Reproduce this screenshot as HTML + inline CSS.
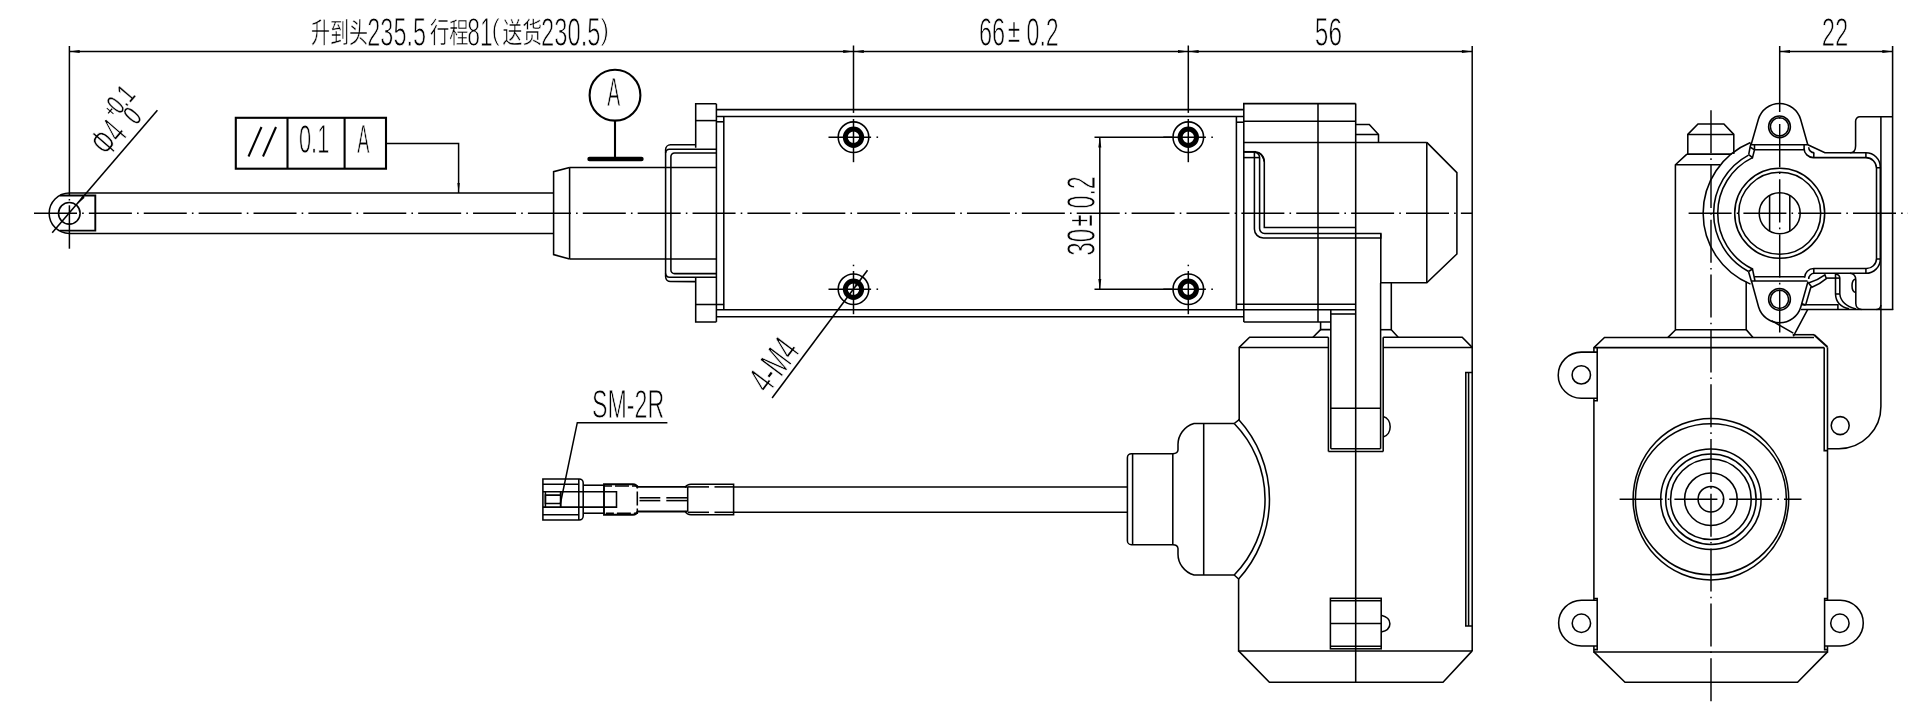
<!DOCTYPE html>
<html lang="zh">
<head>
<meta charset="utf-8">
<title>Linear actuator outline drawing</title>
<style>
html,body{margin:0;padding:0;background:#fff;overflow:hidden}
svg{display:block;will-change:transform}
.l{fill:none;stroke:#000;stroke-width:1.55}
.d{fill:none;stroke:#000;stroke-width:1.5}
.c{fill:none;stroke:#000;stroke-width:1.45}
.m{fill:none;stroke:#000;stroke-width:1.9}
.k{fill:none;stroke:#000;stroke-width:2.1}
.ring{fill:none;stroke:#000;stroke-width:5}
.a{fill:#000;stroke:none}
text{fill:#000;stroke:#fff;stroke-width:0.9px}
.lat{font-family:"Liberation Sans",sans-serif}
.sm{stroke-width:0.3px}
.ns{stroke:none}
.cjk{font-family:"Liberation Sans","Noto Sans CJK SC","WenQuanYi Zen Hei",sans-serif;font-weight:400;stroke-width:0.5px}
</style>
</head>
<body>
<svg width="1919" height="726" viewBox="0 0 1919 726">
<rect x="0" y="0" width="1919" height="726" fill="#fff"/>
<g id="labels">
<text transform="translate(0.0,0.0)"><tspan class="cjk" x="311.0" y="43.2" font-size="28" textLength="57" lengthAdjust="spacingAndGlyphs">升到头</tspan><tspan class="lat" x="367.3" y="45.7" font-size="40.2" textLength="58.7" lengthAdjust="spacingAndGlyphs">235.5</tspan><tspan class="cjk" x="430.0" y="43.2" font-size="28" textLength="38.5" lengthAdjust="spacingAndGlyphs">行程</tspan><tspan class="lat" x="467.3" y="45.7" font-size="40.2" textLength="25.5" lengthAdjust="spacingAndGlyphs">81</tspan><tspan class="lat" x="491.5" y="40.1" font-size="29" textLength="8.5" lengthAdjust="spacingAndGlyphs">(</tspan><tspan class="cjk" x="502.5" y="43.2" font-size="28" textLength="39.5" lengthAdjust="spacingAndGlyphs">送货</tspan><tspan class="lat" x="541.0" y="45.7" font-size="40.2" textLength="59.5" lengthAdjust="spacingAndGlyphs">230.5</tspan><tspan class="lat" x="600.5" y="40.1" font-size="29" textLength="8.5" lengthAdjust="spacingAndGlyphs">)</tspan></text>
<text transform="translate(0.0,0.0)"><tspan class="lat" x="979.0" y="45.7" font-size="40.2" textLength="26.2" lengthAdjust="spacingAndGlyphs">66</tspan><tspan class="lat sm" x="1008.0" y="42.2" font-size="33" textLength="12" lengthAdjust="spacingAndGlyphs">±</tspan><tspan class="lat" x="1026.5" y="45.7" font-size="40.2" textLength="32.3" lengthAdjust="spacingAndGlyphs">0.2</tspan></text>
<text transform="translate(1314.8,46.2)"><tspan class="lat" x="0.0" y="0.0" font-size="40.2" textLength="27.2" lengthAdjust="spacingAndGlyphs">56</tspan></text>
<text transform="translate(1821.8,45.9)"><tspan class="lat" x="0.0" y="0.0" font-size="40.2" textLength="26.6" lengthAdjust="spacingAndGlyphs">22</tspan></text>
<text transform="translate(299.0,153.4)"><tspan class="lat" x="0.0" y="0.0" font-size="40.2" textLength="30.3" lengthAdjust="spacingAndGlyphs">0.1</tspan></text>
<text transform="translate(357.3,153.4)"><tspan class="lat" x="0.0" y="0.0" font-size="40.2" textLength="12.2" lengthAdjust="spacingAndGlyphs">A</tspan></text>
<text transform="translate(607.3,105.8)"><tspan class="lat" x="0.0" y="0.0" font-size="40.2" textLength="13" lengthAdjust="spacingAndGlyphs">A</tspan></text>
<text transform="translate(592.0,418.0)"><tspan class="lat" x="0.0" y="0.0" font-size="40.2" textLength="72.2" lengthAdjust="spacingAndGlyphs">SM-2R</tspan></text>
<text transform="translate(768.2,395.1) rotate(-53.2)"><tspan class="lat" x="0.0" y="0.0" font-size="40.2" textLength="55" lengthAdjust="spacingAndGlyphs">4-M4</tspan></text>
<text transform="translate(1095.2,255.8) rotate(-90)"><tspan class="lat" x="0.0" y="0.0" font-size="40.2" textLength="27" lengthAdjust="spacingAndGlyphs">30</tspan><tspan class="lat sm" x="29.3" y="-3.5" font-size="33" textLength="12" lengthAdjust="spacingAndGlyphs">±</tspan><tspan class="lat" x="47.3" y="0.0" font-size="40.2" textLength="32.3" lengthAdjust="spacingAndGlyphs">0.2</tspan></text>
<text transform="translate(108.3,158.3) rotate(-49.3)"><tspan class="lat" x="0.0" y="0.0" font-size="40.2" textLength="31" lengthAdjust="spacingAndGlyphs">Φ4</tspan><tspan class="lat ns" x="33.3" y="-23.5" font-size="18" textLength="7.4" lengthAdjust="spacingAndGlyphs">+</tspan><tspan class="lat sm" x="39.9" y="-19.5" font-size="28" textLength="26.1" lengthAdjust="spacingAndGlyphs">0.1</tspan><tspan class="lat sm" x="42.5" y="0.0" font-size="28" textLength="11" lengthAdjust="spacingAndGlyphs">0</tspan></text>
</g>
<g id="main-view">
<line class="d" x1="69.4" y1="51.5" x2="1472.2" y2="51.5"/>
<polygon class="a" points="69.4,51.5 79.70,53.00 79.70,50.00"/>
<polygon class="a" points="853.5,51.5 843.20,50.00 843.20,53.00"/>
<polygon class="a" points="853.5,51.5 863.80,53.00 863.80,50.00"/>
<polygon class="a" points="1188.3,51.5 1178.00,50.00 1178.00,53.00"/>
<polygon class="a" points="1188.3,51.5 1198.60,53.00 1198.60,50.00"/>
<polygon class="a" points="1472.2,51.5 1461.90,50.00 1461.90,53.00"/>
<line class="d" x1="69.4" y1="46" x2="69.4" y2="195"/>
<line class="d" x1="69.4" y1="199" x2="69.4" y2="200.5"/>
<line class="d" x1="69.4" y1="205.3" x2="69.4" y2="248.7"/>
<line class="d" x1="853.5" y1="45.5" x2="853.5" y2="112.9"/>
<line class="d" x1="1188.3" y1="45.5" x2="1188.3" y2="112.9"/>
<line class="d" x1="1472.2" y1="46" x2="1472.2" y2="348"/>
<line class="c" x1="34" y1="213.3" x2="1472" y2="213.3" stroke-dasharray="43 5.14 1.6 5.14"/>
<path class="l" d="M553.6,193 H69.4 A20.25,20.25 0 0 0 69.4,233.5 H553.6"/>
<circle class="l" cx="69.3" cy="213.3" r="10.8"/>
<path class="m" d="M60,195.5 H95.3 V230.6 H60"/>
<line class="l" x1="52.2" y1="232.7" x2="157.4" y2="110.3"/>
<polygon class="a" points="76.4,205.1 84.63,197.67 82.51,195.85"/>
<rect class="k" x="235.8" y="117.8" width="150.2" height="50.9"/>
<line class="k" x1="287.5" y1="117.8" x2="287.5" y2="168.7"/>
<line class="k" x1="344.6" y1="117.8" x2="344.6" y2="168.7"/>
<line class="k" x1="248.5" y1="156.5" x2="261.5" y2="127"/>
<line class="k" x1="263" y1="156.5" x2="276" y2="127"/>
<polyline class="d" points="386,143.4 458.6,143.4 458.6,193"/>
<polygon class="a" points="458.6,193 459.80,183.00 457.40,183.00"/>
<circle class="k" cx="615" cy="95.2" r="25.4"/>
<line class="k" x1="615" y1="120.6" x2="615" y2="158"/>
<line x1="589.5" y1="159" x2="641.5" y2="159" stroke="#000" stroke-width="4.4" stroke-linecap="round"/>
<path class="l" d="M569.6,167.4 L553.6,171.7 V254.6 L569.6,258.9"/>
<line class="l" x1="569.6" y1="167.4" x2="569.6" y2="258.9"/>
<line class="l" x1="569.6" y1="167.4" x2="716.4" y2="167.4"/>
<line class="l" x1="569.6" y1="258.9" x2="716.4" y2="258.9"/>
<path class="l" d="M695.7,144.8 H670.5 A5,5 0 0 0 665.6,149.8 V276.6 A5,5 0 0 0 670.5,281.6 H695.7"/>
<path class="l" d="M716.4,149.2 H669.4 A3.8,3.8 0 0 0 665.6,153"/>
<path class="l" d="M716.4,277.2 H669.4 A3.8,3.8 0 0 1 665.6,273.4"/>
<path class="l" d="M716.4,152.9 H674.5 A3.6,3.6 0 0 0 670.9,156.5 V270 A3.6,3.6 0 0 0 674.5,273.6 H716.4"/>
<path class="l" d="M695.7,147.8 V103.8 H716.4"/>
<line class="l" x1="695.7" y1="120.6" x2="716.4" y2="120.6"/>
<path class="l" d="M695.7,277.2 V321.9 H716.4"/>
<line class="l" x1="695.7" y1="304.5" x2="724.1" y2="304.5"/>
<line class="l" x1="716.4" y1="103.8" x2="716.4" y2="321.9"/>
<line class="l" x1="716.4" y1="121.8" x2="723.8" y2="121.8"/>
<line class="l" x1="723.8" y1="116.5" x2="723.8" y2="309.7"/>
<line class="l" x1="716.4" y1="109.6" x2="1243.8" y2="109.6"/>
<line class="l" x1="716.4" y1="116.5" x2="1243.8" y2="116.5"/>
<line class="l" x1="716.4" y1="309.7" x2="1355.8" y2="309.7"/>
<line class="l" x1="716.4" y1="316.7" x2="1243.8" y2="316.7"/>
<line class="l" x1="1236.4" y1="116.5" x2="1236.4" y2="309.7"/>
<line class="l" x1="1236.4" y1="122.2" x2="1243.8" y2="122.2"/>
<line class="l" x1="1236.4" y1="304.3" x2="1355.8" y2="304.3"/>
</g>
<g id="holes">
<circle class="l" cx="853.5" cy="137.2" r="15.3"/>
<circle class="ring" cx="853.5" cy="137.2" r="8.2"/>
<line class="d" x1="828.5" y1="137.2" x2="871.1" y2="137.2"/>
<line class="d" x1="876.5" y1="137.2" x2="878.1" y2="137.2"/>
<line class="d" x1="853.5" y1="118.99999999999999" x2="853.5" y2="162.2"/>
<circle class="l" cx="1188.3" cy="137.2" r="15.3"/>
<circle class="ring" cx="1188.3" cy="137.2" r="8.2"/>
<line class="d" x1="1163.3" y1="137.2" x2="1205.8999999999999" y2="137.2"/>
<line class="d" x1="1211.3" y1="137.2" x2="1212.8999999999999" y2="137.2"/>
<line class="d" x1="1188.3" y1="118.99999999999999" x2="1188.3" y2="162.2"/>
<circle class="l" cx="853.5" cy="289.2" r="15.3"/>
<circle class="ring" cx="853.5" cy="289.2" r="8.2"/>
<line class="d" x1="828.5" y1="289.2" x2="871.1" y2="289.2"/>
<line class="d" x1="876.5" y1="289.2" x2="878.1" y2="289.2"/>
<line class="d" x1="853.5" y1="271.0" x2="853.5" y2="314.2"/>
<line class="d" x1="853.5" y1="264.7" x2="853.5" y2="266.2"/>
<circle class="l" cx="1188.3" cy="289.2" r="15.3"/>
<circle class="ring" cx="1188.3" cy="289.2" r="8.2"/>
<line class="d" x1="1163.3" y1="289.2" x2="1205.8999999999999" y2="289.2"/>
<line class="d" x1="1211.3" y1="289.2" x2="1212.8999999999999" y2="289.2"/>
<line class="d" x1="1188.3" y1="271.0" x2="1188.3" y2="314.2"/>
<line class="d" x1="1188.3" y1="264.7" x2="1188.3" y2="266.2"/>
</g>
<g id="dim30">
<line class="d" x1="1094.5" y1="137.2" x2="1172" y2="137.2"/>
<line class="d" x1="1094.5" y1="289.2" x2="1172" y2="289.2"/>
<line class="d" x1="1099.8" y1="137.2" x2="1099.8" y2="289.2"/>
<polygon class="a" points="1099.8,137.2 1098.30,147.50 1101.30,147.50"/>
<polygon class="a" points="1099.8,289.2 1101.30,278.90 1098.30,278.90"/>
</g>
<line class="l" x1="772.1" y1="398" x2="867.5" y2="270.3"/>
<polygon class="a" points="862.5,277 854.88,285.03 856.96,286.59"/>
<g id="motor">
<path class="l" d="M1243.8,322 V103.6 H1355.7"/>
<line class="l" x1="1355.7" y1="103.6" x2="1355.7" y2="682.2"/>
<line class="l" x1="1318" y1="103.6" x2="1318" y2="322"/>
<line class="l" x1="1243.8" y1="121.2" x2="1355.7" y2="121.2"/>
<line class="l" x1="1243.8" y1="142.4" x2="1426.8" y2="142.4"/>
<line class="l" x1="1243.8" y1="322" x2="1330.6" y2="322"/>
<path class="l" d="M1355.7,124.5 H1369.3 L1378.5,134.5 V142.4"/>
<line class="l" x1="1355.7" y1="134.5" x2="1378.5" y2="134.5"/>
<path class="l" d="M1426.8,142.4 L1456.9,172.6 V254 L1426.8,282.8 H1380.8"/>
<line class="l" x1="1426.8" y1="142.4" x2="1426.8" y2="282.8"/>
<path class="l" d="M1243.8,151.7 H1254.3 A10,10 0 0 1 1264.3,161.7 V227.4 H1355.7"/>
<line class="m" x1="1243.8" y1="151.9" x2="1256" y2="151.9"/>
<path class="l" d="M1243.8,157.6 H1259.4"/>
<path class="l" d="M1254.4,151.7 V229 A9,9 0 0 0 1263.4,238 H1380.8 V233.4"/>
<path class="l" d="M1254.6,152.3 Q1259.4,153 1259.6,157.6 V228.4 A5,5 0 0 0 1264.6,233.4 H1380.8 V283"/>
<path class="l" d="M1258.6,152.6 Q1263,155 1264.3,161.7"/>
<path class="l" d="M1391.3,282.8 V329.7 L1398.2,337.2"/>
<line class="l" x1="1380.6" y1="329.7" x2="1391.3" y2="329.7"/>
<path class="l" d="M1330.6,329.6 H1320.6 V322"/>
<line class="l" x1="1320.6" y1="329.6" x2="1313" y2="337.2"/>
<line class="l" x1="1330.8" y1="309.7" x2="1330.8" y2="448.8"/>
<line class="l" x1="1328.4" y1="337.2" x2="1328.4" y2="451.5"/>
<line class="l" x1="1330.8" y1="314" x2="1355.7" y2="314"/>
<line class="l" x1="1380.6" y1="283" x2="1380.6" y2="448.8"/>
<line class="l" x1="1383.2" y1="337.2" x2="1383.2" y2="451.5"/>
<line class="l" x1="1330.8" y1="408.3" x2="1380.6" y2="408.3"/>
<line class="l" x1="1330.8" y1="448.8" x2="1380.6" y2="448.8"/>
<line class="l" x1="1328.4" y1="451.5" x2="1383.2" y2="451.5"/>
<path class="l" d="M1383.2,416.5 C1392.5,419 1392.5,434.5 1383.2,437"/>
<path class="l" d="M1328.4,337.2 H1249.6 L1239.2,347.4 V419.6 L1234.2,423.5"/>
<line class="l" x1="1239.2" y1="347.4" x2="1328.4" y2="347.4"/>
<path class="l" d="M1383.2,337.2 H1462.2 L1472.2,347.4 V650.9"/>
<line class="l" x1="1383.2" y1="347.4" x2="1472.2" y2="347.4"/>
<path class="l" d="M1234.2,575 L1238.6,579 V650.9 H1472.2"/>
<path class="l" d="M1238.6,650.9 L1269.4,682.2 H1443 L1472.2,650.9"/>
<path class="l" d="M1472.2,372.5 H1465.8 V626 H1472.2"/>
<line class="l" x1="1468.6" y1="373" x2="1468.6" y2="626"/>
<rect class="l" x="1330.4" y="598.3" width="50.8" height="50.5"/>
<line class="l" x1="1330.4" y1="600.8" x2="1381.2" y2="600.8"/>
<line class="l" x1="1330.4" y1="623.4" x2="1381.2" y2="623.4"/>
<line class="l" x1="1330.4" y1="646.3" x2="1381.2" y2="646.3"/>
<path class="l" d="M1381.2,615.3 C1392.8,618 1392.8,629.5 1381.2,632"/>
<path class="l" d="M1234.2,423.5 H1194 A22,22 0 0 0 1178,445.5 V450 Q1177.6,453.7 1172.8,453.7 H1131.4 A4,4 0 0 0 1127.4,457.7 V540.7 A4,4 0 0 0 1131.4,544.7 H1172.8 Q1177.6,544.7 1178,548.5 V553 A22,22 0 0 0 1194,575 H1234.2"/>
<line class="l" x1="1132.6" y1="453.7" x2="1132.6" y2="544.7"/>
<line class="l" x1="1172.8" y1="453.7" x2="1172.8" y2="544.7"/>
<line class="l" x1="1203.7" y1="423.5" x2="1203.7" y2="575"/>
<path class="l" d="M1238.4,419.3 A118.4,118.4 0 0 1 1238.4,579.2"/>
<path class="l" d="M1234.2,423.5 A108.4,108.4 0 0 1 1234.2,575"/>
<line class="l" x1="733.6" y1="486.9" x2="1127.4" y2="486.9"/>
<line class="l" x1="733.6" y1="512.3" x2="1127.4" y2="512.3"/>
</g>
<g id="connector">
<path class="l" d="M542.9,479 H579.2 A4,4 0 0 1 583.2,483 V516 A4,4 0 0 1 579.2,520 H542.9 Z"/>
<line class="l" x1="578.8" y1="479" x2="578.8" y2="520"/>
<line class="l" x1="542.9" y1="484.2" x2="578.8" y2="484.2"/>
<line class="l" x1="542.9" y1="514.8" x2="578.8" y2="514.8"/>
<path class="l" d="M542.9,491.8 H616.5 V507.1 H542.9"/>
<path class="l" d="M560.7,495.1 H545.4 V503.5 H560.7"/>
<line class="l" x1="545.4" y1="491.8" x2="545.4" y2="507.1"/>
<line class="m" x1="560.7" y1="491.8" x2="560.7" y2="507.1"/>
<line class="l" x1="583.2" y1="485.2" x2="604" y2="485.2"/>
<line class="l" x1="583.2" y1="513.2" x2="604" y2="513.2"/>
<polyline class="d" points="667.4,422.7 577.3,422.7 560.4,503.5"/>
<path class="m" d="M637.3,487.5 Q636.5,484.2 633,484.2 H604 V514.8 H633 Q636.5,514.8 637.3,511.5"/>
<path class="l" d="M604,485.9 H637.3 V513.2 H604" stroke-dasharray="8 3 14 3"/>
<line class="m" x1="637.3" y1="486.9" x2="687.7" y2="486.9"/>
<line class="m" x1="637.3" y1="511.5" x2="687.7" y2="511.5"/>
<line class="l" x1="639.5" y1="497.8" x2="660.3" y2="497.8"/>
<line class="l" x1="666.3" y1="497.8" x2="687.1" y2="497.8"/>
<line class="l" x1="639.5" y1="500.6" x2="660.3" y2="500.6"/>
<line class="l" x1="666.3" y1="500.6" x2="687.1" y2="500.6"/>
<line class="l" x1="687.7" y1="486.9" x2="687.7" y2="511.5"/>
<path class="l" d="M685,487.5 Q687,484.2 691,484.2 H733.6 V514.8 H691 Q687,514.8 685,511.2"/>
<line class="l" x1="688" y1="486.9" x2="709" y2="486.9"/>
<line class="l" x1="714.5" y1="486.9" x2="733.6" y2="486.9"/>
<line class="l" x1="688" y1="512.3" x2="709" y2="512.3"/>
<line class="l" x1="714.5" y1="512.3" x2="733.6" y2="512.3"/>
</g>
<g id="side-view">
<line class="d" x1="1779.7" y1="51.5" x2="1892.6" y2="51.5"/>
<polygon class="a" points="1779.7,51.5 1790.00,53.00 1790.00,50.00"/>
<polygon class="a" points="1892.6,51.5 1882.30,50.00 1882.30,53.00"/>
<line class="d" x1="1779.7" y1="46" x2="1779.7" y2="112"/>
<line class="c" x1="1779.7" y1="112" x2="1779.7" y2="332.5" stroke-dasharray="0 5.2 1.6 5.2 43.2 0"/>
<line class="l" x1="1892.6" y1="46" x2="1892.6" y2="310"/>
<line class="c" x1="1688.6" y1="213.3" x2="1908" y2="213.3" stroke-dasharray="43 5.1 1.6 5.1"/>
<line class="c" x1="1711" y1="110.2" x2="1711" y2="702" stroke-dasharray="43 5.1 1.6 5.1"/>
<circle class="l" cx="1779.7" cy="213.3" r="45"/>
<circle class="l" cx="1779.7" cy="213.3" r="41"/>
<circle class="l" cx="1779.7" cy="213.3" r="20.5"/>
<line class="l" x1="1769.6" y1="195.4" x2="1769.6" y2="231.2"/>
<line class="l" x1="1789.8" y1="195.4" x2="1789.8" y2="231.2"/>
<path class="l" d="M1750.5,142.5 A76.6,76.6 0 0 0 1750.5,284.1"/>
<path class="l" d="M1748.5,155.1 A66,66 0 0 0 1748.5,271.5"/>
<path class="l" d="M1752.5,157.6 A62,62 0 0 0 1752.5,269.0"/>
<path class="l" d="M1748.7,154.6 L1750.1,147 L1751.1,143.2 M1748.7,154.6 L1752.5,157.6 L1754.5,149.8 M1750.1,147 L1754.5,149.8"/>
<path class="l" d="M1748.5,271.5 L1751.6,282 M1748.5,271.5 L1752.5,269 L1755,281"/>
<path class="l" d="M1751.1,144.7 L1758.4,119.3 A22,22 0 0 1 1800.6,119.3 L1807.8,144.7"/>
<circle class="l" cx="1779.5" cy="126.8" r="10.9"/>
<circle class="l" cx="1779.5" cy="126.8" r="9.1"/>
<line class="l" x1="1751.1" y1="144.7" x2="1807.8" y2="144.7"/>
<line class="l" x1="1754.5" y1="149.8" x2="1804.1" y2="149.8"/>
<path class="l" d="M1754.5,144.7 V149.8 M1804.1,144.7 V149.8"/>
<path class="l" d="M1751.6,281.5 L1758.6,307 A22,22 0 0 0 1800.8,307 L1808,281.5"/>
<circle class="l" cx="1779.5" cy="299.3" r="10.9"/>
<circle class="l" cx="1779.5" cy="299.3" r="9.1"/>
<line class="l" x1="1751.6" y1="281" x2="1807.5" y2="281"/>
<line class="l" x1="1754.3" y1="276.7" x2="1804.6" y2="276.7"/>
<path class="l" d="M1807.8,144.7 L1824.9,152.7 H1865.9 A14.4,14.4 0 0 1 1880.3,167.2 V258.9 A14.4,14.4 0 0 1 1865.9,273.3 H1814.3 A5.6,5.6 0 0 0 1808.7,278.9"/>
<path class="l" d="M1808.7,147.2 A5.6,5.6 0 0 0 1814.3,152.8"/>
<path class="l" d="M1804.1,148.4 A9.2,9.2 0 0 0 1813.3,157.6 H1865.9 A10.6,10.6 0 0 1 1876.5,168.2 V258.5 A10,10 0 0 1 1865.9,268.5 H1813.8 A9.2,9.2 0 0 0 1804.6,277.7"/>
<path class="l" d="M1813.8,152.7 V157.6 M1865.9,152.7 V157.6 M1876.5,167.8 H1880.3 M1813.8,268.5 V273.3 M1865.9,268.5 V273.3 M1876.5,258.9 H1880.3"/>
<path class="l" d="M1850,152.8 Q1855.6,152.8 1855.6,146 V121 A4.3,4.3 0 0 1 1859.9,116.7 H1892.6"/>
<line class="l" x1="1880.9" y1="116.7" x2="1880.9" y2="309.5"/>
<line class="l" x1="1800.8" y1="309.5" x2="1893.2" y2="309.5"/>
<path class="l" d="M1801.8,304.7 H1837.9 V309.5"/>
<path class="l" d="M1808.5,283 Q1818,280 1824.9,274.8 L1826.3,278.6 Q1820,284 1811.9,287.3 Z"/>
<line class="l" x1="1826.3" y1="278.1" x2="1839.8" y2="278.1"/>
<path class="l" d="M1835.5,273.3 V294 Q1836,306 1849,308.8"/>
<path class="l" d="M1835.5,274 Q1839.6,274.6 1839.8,278.1 V294 Q1841,305 1856,309"/>
<line class="l" x1="1835.5" y1="294" x2="1839.8" y2="294"/>
<path class="l" d="M1850,273.3 Q1855.8,274 1855.8,280 V303.5 Q1856,309 1861.5,309.5"/>
<path class="l" d="M1855.8,279.1 A4.3,6.8 0 0 0 1855.8,292.6"/>
<path class="l" d="M1876.5,309.5 Q1880.6,309 1880.9,305"/>
<path class="l" d="M1810.9,287 L1805.6,305.1"/>
<path class="m" d="M1801.3,303.7 L1805.6,305.1"/>
<path class="l" d="M1771.6,320.7 L1793.3,333.1 M1807.6,309.6 L1793.3,336.4"/>
<path class="l" d="M1687.8,154.1 V134.4 L1698,124 H1723.9 L1733.8,134.4 V154.1"/>
<line class="l" x1="1687.8" y1="134.4" x2="1733.8" y2="134.4"/>
<line class="l" x1="1686.9" y1="154.1" x2="1731.6" y2="154.1"/>
<path class="l" d="M1686.9,154.1 L1675.4,164.8 V330 L1668,337.4"/>
<line class="l" x1="1675.4" y1="164.8" x2="1720" y2="164.8"/>
<line class="l" x1="1675.4" y1="329.8" x2="1746.2" y2="329.8"/>
<path class="l" d="M1746.2,281.7 V329.6 L1753,337.4"/>
<path class="l" d="M1814,337.4 H1604.5 L1593.9,347.6 V352.1 M1593.9,398.3 V600.2 M1593.9,646 V651.9 H1827.5 V646 M1827.5,600.2 V347.3"/>
<line class="l" x1="1593.9" y1="347.6" x2="1824.2" y2="347.6"/>
<line class="l" x1="1792.7" y1="334.7" x2="1814" y2="334.7"/>
<path class="m" d="M1814,334.7 L1827.5,347"/>
<path class="l" d="M1824.2,347.6 V450.6 H1827.5"/>
<path class="l" d="M1593.9,651.9 L1625,682.3 H1797.6 L1827.5,651.9"/>
<path class="l" d="M1593.9,400.8 H1597.2 V347.6"/>
<path class="l" d="M1597.2,352.1 H1581.3 A23.1,23.1 0 0 0 1581.3,398.3 H1597.2"/>
<circle class="l" cx="1581.3" cy="374.9" r="9.2"/>
<path class="l" d="M1593.9,598.4 H1597.2 V649.6 H1593.9"/>
<path class="l" d="M1597.2,600.2 H1581.5 A22.9,22.9 0 0 0 1581.5,646 H1597.2"/>
<circle class="l" cx="1581.4" cy="623.2" r="9.2"/>
<path class="l" d="M1827.5,598.4 H1824.6 V649.6 H1827.5"/>
<path class="l" d="M1824.6,600.2 H1840.4 A22.9,22.9 0 0 1 1840.4,646 H1824.6"/>
<circle class="l" cx="1839.9" cy="623.2" r="9.2"/>
<path class="l" d="M1880.9,309.5 V406.5 A42,42 0 0 1 1838.9,448.7 H1827.5"/>
<circle class="l" cx="1840.2" cy="425.6" r="9"/>
<ellipse class="l" cx="1710.9" cy="499.2" rx="77.8" ry="80.8"/>
<circle class="l" cx="1710.9" cy="499.2" r="75.5"/>
<circle class="l" cx="1710.9" cy="499.2" r="50.2"/>
<circle class="l" cx="1710.9" cy="499.2" r="45.2"/>
<circle class="l" cx="1710.9" cy="499.2" r="40.3"/>
<circle class="l" cx="1710.9" cy="499.2" r="26.3"/>
<circle class="l" cx="1710.9" cy="499.2" r="12.8"/>
<line class="c" x1="1619.6" y1="499.2" x2="1801.5" y2="499.2" stroke-dasharray="43 5.1 1.6 5.1"/>
</g>
</svg>
</body>
</html>
